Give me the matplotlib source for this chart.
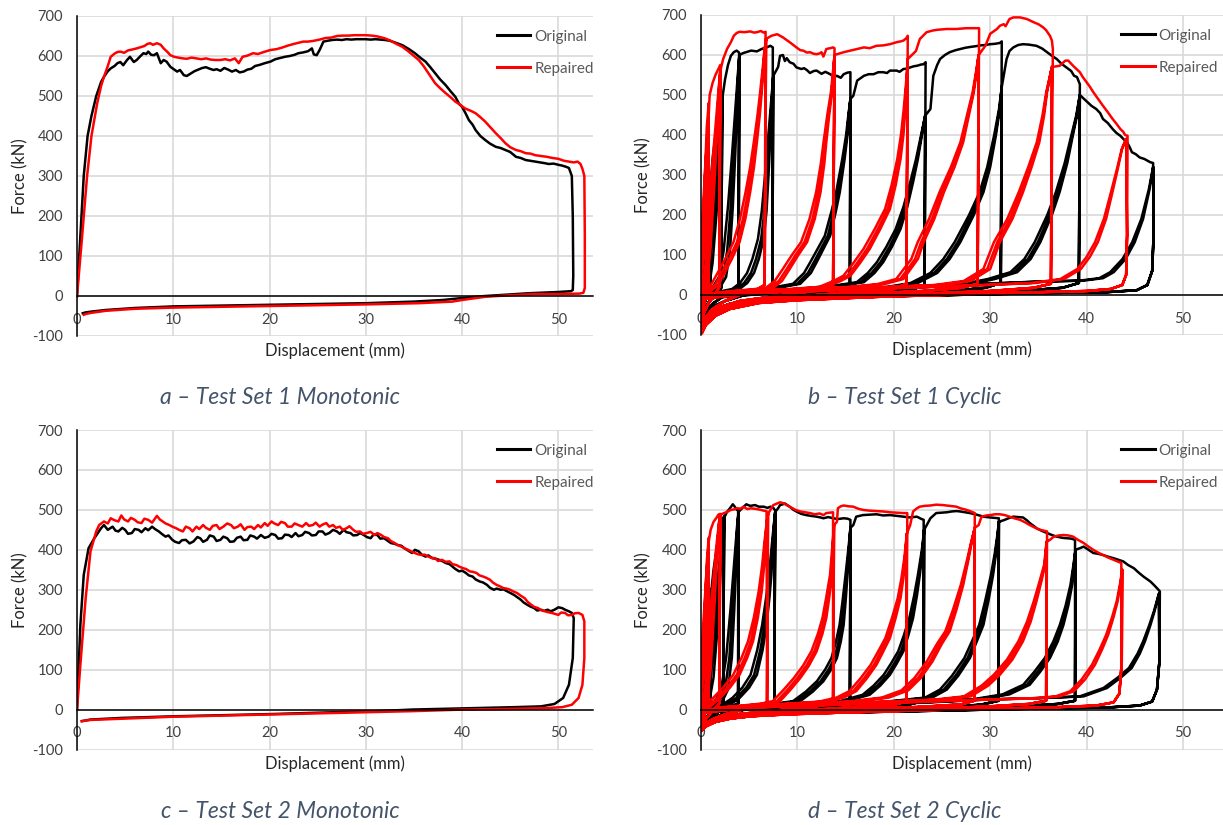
import matplotlib
matplotlib.use("Agg")
import matplotlib.pyplot as plt
from matplotlib.patches import Rectangle

plt.rcParams['font.family'] = ['Lato', 'DejaVu Sans']
plt.rcParams['axes.unicode_minus'] = False

# ---------------- common text / ticks ----------------
X_TICKS = [0, 10, 20, 30, 40, 50]
Y_TICKS = [-100, 0, 100, 200, 300, 400, 500, 600, 700]
SERIES = ['Original', 'Repaired']
CAPTIONS = ['a \u2013 Test Set 1 Monotonic', 'b \u2013 Test Set 1 Cyclic',
            'c \u2013 Test Set 2 Monotonic', 'd \u2013 Test Set 2 Cyclic']
X_LABEL = 'Displacement (mm)'
Y_LABEL = 'Force (kN)'

# ---------------- panel a : Test Set 1 monotonic ----------------
a_orig_load = [(0,0),(0.35,150),(0.7,300),(1.1,400),(1.5,450),(2.0,500),(2.5,535),(2.8,548),(3.2,562),(3.5,569),(3.9,575),(4.2,582),(4.5,585),(4.8,577),(5.2,590),(5.5,598),(5.9,585),(6.2,590),(6.6,600),(6.9,607),(7.2,605),(7.4,611),(7.7,603),(8.0,602),(8.3,607),(8.7,582),(9.0,590),(9.3,586),(9.7,573),(10.0,568),(10.4,561),(10.7,565),(11.1,552),(11.4,550),(11.8,556),(12.2,562),(12.6,566),(13.0,570),(13.4,572),(13.8,568),(14.2,565),(14.5,567),(14.9,563),(15.3,570),(15.7,566),(16.1,561),(16.5,565),(16.9,559),(17.3,561),(17.7,566),(18.1,568),(18.5,575),(19.0,578),(19.5,582),(20.1,586),(20.6,592),(21.1,595),(21.6,598),(22.1,600),(22.6,603),(23.0,607),(23.5,609),(24.0,612),(24.4,619),(24.6,604),(24.9,602),(25.2,615),(25.6,636),(26.0,638),(26.5,640),(27.0,641),(27.5,640),(28.0,642),(28.5,641),(29.0,642),(29.5,642),(30.0,642),(30.5,641),(31.0,642),(31.5,641),(32.0,640),(32.5,638),(33.0,634),(33.8,627),(34.5,617),(35.1,607),(35.7,595),(36.2,586),(36.7,572),(37.2,557),(37.7,542),(38.3,527),(38.8,512),(39.3,498),(39.7,480),(40.0,473),(40.4,455),(40.7,440),(41.1,428),(41.4,415),(41.9,400),(42.4,390),(42.9,381),(43.5,373),(44.0,370),(44.5,365),(45.0,360),(45.6,348),(46.1,345),(46.6,340),(47.1,338),(47.6,336),(48.1,334),(48.6,332),(49.0,330),(49.5,331),(50.0,328),(50.4,326),(50.8,323),(51.1,320),(51.4,300),(51.5,200),(51.55,50),(51.5,15)]
a_orig_unload = [(51.3,12),(50.0,10),(47.0,7),(45.0,4),(42.4,0),(40,-5),(38,-10),(35,-14),(30,-18),(25,-20),(20,-22),(15,-24),(10,-26),(6,-30),(3,-35),(1.5,-39),(0.9,-41),(0.6,-43)]
a_rep_load = [(0,0),(0.5,140),(1.04,298),(1.5,400),(2.1,482),(2.5,525),(2.8,548),(3.2,575),(3.5,598),(3.9,606),(4.2,610),(4.5,611),(4.9,608),(5.3,614),(5.7,616),(6.2,619),(6.6,622),(7.0,625),(7.3,630),(7.6,632),(7.9,628),(8.3,632),(8.7,628),(9.0,619),(9.4,610),(9.7,602),(10.1,598),(10.5,596),(11.0,594),(11.4,593),(11.9,596),(12.4,594),(12.9,592),(13.4,594),(13.9,591),(14.4,590),(14.9,590),(15.4,592),(15.9,589),(16.4,594),(16.8,582),(17.2,598),(17.7,601),(18.3,607),(18.8,605),(19.4,610),(20.1,615),(20.7,617),(21.3,621),(21.9,626),(22.5,630),(23.0,633),(23.5,636),(24.0,636),(24.6,638),(25.2,641),(25.8,645),(26.4,646),(27.0,650),(27.6,651),(28.2,651),(28.8,652),(29.4,652),(30.0,652),(30.6,651),(31.2,649),(32.0,644),(32.6,638),(33.2,630),(33.8,623),(34.4,612),(35.0,600),(35.5,590),(36.0,575),(36.5,557),(37.2,532),(37.7,520),(38.3,507),(38.8,497),(39.3,486),(39.8,478),(40.3,469),(40.9,463),(41.4,457),(41.9,447),(42.4,436),(42.9,423),(43.5,407),(44.0,395),(44.5,382),(45.0,372),(45.6,365),(46.1,362),(46.6,357),(47.1,356),(47.6,352),(48.2,350),(48.8,348),(49.4,345),(50.0,343),(50.6,338),(51.1,336),(51.6,334),(52.0,336),(52.3,330),(52.5,318),(52.7,300),(52.75,150),(52.75,20),(52.6,8)]
a_rep_unload = [(52.2,6),(50,5),(47.6,5),(45,2),(42.4,-2),(40,-10),(39,-14),(35.5,-18),(30,-21),(25,-23),(20,-25),(15,-27),(10,-29),(6,-32),(3,-37),(1.5,-42),(0.9,-45),(0.7,-47)]

# ---------------- panel c : Test Set 2 monotonic ----------------
c_orig_load = [(0,0),(0.35,212),(0.7,337),(1.2,404),(1.8,429),(2.5,454),(2.8,462),(3.2,450),(3.7,458),(4.0,448),(4.3,446),(4.7,455),(5.0,450),(5.3,440),(5.7,442),(6.0,452),(6.4,450),(6.7,444),(7.1,454),(7.4,449),(7.8,458),(8.1,452),(8.5,446),(8.8,440),(9.2,433),(9.5,436),(9.9,425),(10.2,420),(10.6,417),(10.9,424),(11.3,425),(11.7,416),(12.1,421),(12.5,432),(12.8,429),(13.1,420),(13.5,425),(13.8,436),(14.2,433),(14.5,422),(14.9,425),(15.2,433),(15.6,429),(15.9,420),(16.3,421),(16.6,430),(17.0,433),(17.3,424),(17.7,425),(18.0,436),(18.4,433),(18.7,428),(19.1,437),(19.5,430),(19.9,433),(20.2,440),(20.6,437),(20.9,428),(21.3,429),(21.6,438),(22.0,437),(22.3,432),(22.7,442),(23.0,434),(23.4,437),(23.7,445),(24.1,442),(24.4,436),(24.8,437),(25.1,446),(25.5,446),(25.8,438),(26.2,442),(26.6,450),(27.0,446),(27.3,440),(27.7,450),(28.0,444),(28.4,442),(28.7,436),(29.1,437),(29.4,442),(29.8,437),(30.1,432),(30.5,429),(30.8,438),(31.2,437),(31.5,428),(31.9,429),(32.3,422),(32.6,417),(33.0,415),(33.3,412),(33.7,410),(34.0,404),(34.4,398),(34.8,392),(35.1,400),(35.5,396),(35.8,388),(36.2,383),(36.5,386),(36.9,379),(37.2,378),(37.6,375),(38.0,371),(38.3,367),(38.7,364),(39.0,358),(39.3,352),(39.7,346),(40.0,348),(40.4,342),(40.7,336),(41.1,333),(41.4,326),(41.8,321),(42.2,318),(42.6,312),(42.9,305),(43.3,300),(43.6,303),(44.0,300),(44.3,301),(44.7,296),(45.0,292),(45.4,287),(45.7,282),(46.1,275),(46.4,268),(46.8,262),(47.1,258),(47.5,254),(47.8,248),(48.2,250),(48.5,247),(48.9,250),(49.2,246),(49.6,250),(50.0,256),(50.4,254),(50.7,250),(51.1,246),(51.4,242),(51.6,229)]
c_orig_unload = [(51.5,129),(51.1,62),(50.5,29),(49.6,14),(48.2,8),(45.4,6),(40.1,3),(34.8,0),(31.2,-4),(27.7,-6),(20.6,-11),(15.2,-14),(9.9,-17),(4.6,-21),(1.4,-25),(0.5,-29)]
c_rep_load = [(0,0),(0.35,112),(0.9,279),(1.4,396),(2.0,446),(2.3,462),(2.8,471),(3.2,466),(3.5,479),(3.9,474),(4.3,471),(4.6,486),(4.9,476),(5.3,471),(5.6,480),(6.0,475),(6.3,469),(6.7,467),(7.0,478),(7.4,475),(7.8,468),(8.3,485),(8.6,476),(8.9,471),(9.2,466),(9.6,462),(9.9,458),(10.3,454),(10.6,450),(11.0,446),(11.3,458),(11.7,454),(12.0,446),(12.4,458),(12.7,452),(13.1,462),(13.4,455),(13.8,450),(14.1,460),(14.5,462),(14.8,452),(15.2,458),(15.6,466),(16.0,462),(16.3,454),(16.7,458),(17.0,464),(17.4,450),(17.7,457),(18.1,458),(18.4,452),(18.8,462),(19.1,456),(19.5,467),(19.8,460),(20.2,471),(20.5,466),(20.9,462),(21.2,470),(21.6,467),(21.9,458),(22.3,458),(22.6,466),(23.0,462),(23.4,458),(23.8,467),(24.1,460),(24.5,462),(24.8,468),(25.2,458),(25.5,463),(25.9,467),(26.2,458),(26.6,462),(26.9,455),(27.3,458),(27.6,450),(28.0,454),(28.3,459),(28.7,450),(29.0,445),(29.4,446),(29.7,440),(30.1,442),(30.5,445),(30.9,437),(31.2,442),(31.6,437),(31.9,432),(32.3,429),(32.6,422),(33.0,417),(33.3,412),(33.7,408),(34.0,404),(34.4,400),(34.7,396),(35.1,392),(35.4,389),(35.8,387),(36.1,388),(36.5,383),(36.8,380),(37.2,379),(37.5,372),(37.9,375),(38.3,370),(38.7,371),(39.0,364),(39.4,362),(39.7,358),(40.1,354),(40.4,352),(40.8,346),(41.1,345),(41.5,342),(41.8,336),(42.2,333),(42.5,330),(42.9,325),(43.2,318),(43.6,312),(43.9,309),(44.3,304),(44.6,303),(45.0,300),(45.3,296),(45.7,292),(46.1,285),(46.5,279),(46.8,270),(47.2,262),(47.5,257),(47.9,254),(48.2,249),(48.6,246),(48.9,244),(49.3,242),(49.6,240),(50.0,237),(50.3,243),(50.7,242),(51.0,236),(51.4,237),(51.7,241),(52.1,242),(52.5,237),(52.7,221)]
c_rep_unload = [(52.7,129),(52.5,62),(52.1,29),(51.4,12),(50.4,6),(48.9,4),(45.4,2),(40.1,0),(34.8,-4),(27.7,-8),(20.6,-12),(9.9,-18),(1.4,-26),(0.5,-29)]

# ---------------- panel b : Test Set 1 cyclic ----------------
# backbone segment reached in the first cycle of each amplitude
b_orig_env = [
    [(0,0),(0.2,70),(0.5,170),(0.8,250),(1.0,300)],
    [(1.2,340),(1.5,400),(1.8,450),(2.0,480),(2.2,500)],
    [(2.5,540),(2.8,575),(3.1,598),(3.4,607),(3.7,611),(3.95,606)],
    [(4.4,605),(4.8,608),(5.2,611),(5.8,609),(6.2,614),(6.5,617),(6.9,620),(7.2,623),(7.45,619)],
    [(8.0,570),(8.2,598),(8.5,600),(8.7,585),(8.9,592),(9.2,582),(9.6,578),(9.9,569),(10.4,565),(10.7,567),(11.0,562),(11.3,555),(11.7,560),(12.0,561),(12.5,553),(12.9,558),(13.4,552),(13.8,545),(14.1,548),(14.5,543),(14.8,552),(15.2,556),(15.5,557)],
    [(15.8,498),(16.2,536),(16.9,548),(17.4,552),(17.9,552),(18.4,557),(18.9,557),(19.3,555),(19.6,561),(20.3,561),(20.6,558),(21.0,565),(21.4,566),(21.7,569),(22.1,572),(22.4,573),(22.8,576),(23.1,577),(23.3,582)],
    [(23.8,465),(24.1,548),(24.5,575),(24.8,590),(25.3,600),(25.8,607),(26.4,612),(26.9,615),(27.4,618),(27.9,620),(28.5,622),(29.0,624),(29.5,625),(30.0,627),(30.5,628),(31.0,630),(31.2,634)],
    [(31.7,590),(32.0,610),(32.4,619),(32.9,625),(33.4,627),(34.0,626),(34.8,623),(35.4,616),(35.9,607),(36.4,598),(36.9,590),(37.4,578),(37.9,569),(38.4,560),(38.7,548),(39.0,545),(39.3,527)],
    [(40.5,473),(41.0,465),(41.4,455),(41.7,440),(42.2,430),(42.7,415),(43.1,405),(43.5,398),(43.9,388),(44.2,382),(44.5,368),(44.7,357),(45.1,352),(45.5,344),(46.0,340),(46.6,332),(46.9,330)],
]
# reloading branch of the repeated cycles at each amplitude
b_orig_rel = [
    [(0.3,-10),(0.5,30),(0.7,120),(0.85,200),(1.0,280)],
    [(0.3,-10),(0.8,15),(1.2,80),(1.6,200),(1.9,330),(2.1,440),(2.2,490)],
    [(0.3,-10),(1.0,8),(2.0,20),(2.6,45),(3.0,110),(3.3,220),(3.55,350),(3.75,470),(3.9,560),(3.98,600)],
    [(0.3,-10),(1.5,5),(3.0,10),(4.0,15),(4.8,30),(5.5,55),(6.0,90),(6.5,140),(6.8,210),(7.0,298),(7.2,400),(7.35,480),(7.5,548)],
    [(0.3,-10),(3,5),(6,12),(8.5,20),(10.3,28),(11.4,55),(12.0,82),(12.8,120),(13.4,148),(14.0,210),(14.4,257),(14.9,340),(15.2,400),(15.35,450),(15.5,490)],
    [(0.3,-10),(4,5),(8,10),(12,18),(15,25),(16.9,32),(18.0,55),(18.9,82),(19.8,120),(20.7,165),(21.4,220),(22.0,282),(22.5,340),(22.9,398),(23.25,448)],
    [(0.3,-10),(5,5),(10,10),(15,15),(20,20),(22.5,30),(24.5,55),(25.8,90),(26.9,132),(28.3,200),(29.3,257),(30.0,320),(30.6,400),(31.0,465),(31.2,520)],
    [(0.3,-10),(6,5),(12,10),(18,15),(24,22),(28,28),(30.5,40),(32.8,57),(34.2,90),(35.2,132),(36.4,200),(37.2,257),(38.0,330),(38.5,390),(39.0,448),(39.3,500)],
    [(0.3,-10),(8,5),(16,12),(24,20),(30,28),(35,33),(40,36),(42,42),(43.1,57),(44.3,90),(45.2,132),(46.0,190),(46.6,265),(46.9,320)],
]
# unloading / return branch at each amplitude
b_orig_ret = [
    [(0.95,15),(0.6,-5),(0.3,-25),(0.1,-40)],
    [(2.1,18),(1.5,0),(0.8,-18),(0.3,-40),(0.1,-50)],
    [(3.9,18),(3.2,8),(2.2,-5),(1.2,-22),(0.4,-42),(0.1,-55)],
    [(7.4,22),(6.2,10),(4.5,0),(2.5,-15),(1.2,-30),(0.4,-52),(0.1,-65)],
    [(15.45,25),(14.5,12),(12,5),(9,-2),(6,-10),(3,-22),(1.5,-35),(0.5,-55),(0.1,-70)],
    [(23.2,25),(22,14),(18,6),(14,-2),(10,-8),(6,-15),(3,-28),(1.5,-40),(0.5,-60),(0.1,-75)],
    [(31.1,30),(29.5,18),(25,8),(20,2),(15,-3),(10,-8),(6,-15),(3,-28),(1.5,-42),(0.5,-62),(0.1,-78)],
    [(39.2,30),(37.5,18),(33,10),(28,5),(20,-2),(14,-6),(10,-10),(6,-17),(3,-30),(1.5,-45),(0.5,-65),(0.1,-82)],
    [(46.95,150),(46.8,60),(46.3,25),(45.2,12),(42,7),(36,5),(30,2),(24,-1),(18,-4),(12,-8),(8,-12),(5,-18),(3,-28),(1.5,-42),(0.5,-62),(0.1,-80)],
]
b_rep_env = [
    [(0,0),(0.2,150),(0.4,300),(0.6,420),(0.8,480)],
    [(0.9,500),(1.2,530),(1.5,550),(1.8,565),(2.0,575)],
    [(2.3,590),(2.7,615),(3.1,632),(3.4,648),(3.7,655),(4.0,658),(4.5,657),(5.1,659),(5.5,656),(5.8,657),(6.2,660),(6.5,656),(6.7,658)],
    [(7.3,648),(7.9,652),(8.5,644),(9.2,632),(9.9,619),(10.3,612),(10.6,611),(11.0,606),(11.3,607),(11.7,603),(12.0,602),(12.3,604),(12.5,607),(12.7,596),(13.0,615),(13.4,617),(13.7,619),(13.85,617)],
    [(14.8,607),(15.5,611),(16.2,615),(16.9,619),(17.5,617),(18.2,623),(18.9,624),(19.6,627),(20.0,630),(20.3,632),(20.7,634),(21.0,636),(21.3,642),(21.45,648)],
    [(22.3,610),(22.7,640),(23.4,657),(24.0,661),(24.5,663),(25.5,665),(26.5,665),(27.5,667),(28.6,667),(28.85,667)],
    [(29.5,623),(30.0,653),(30.7,665),(31.0,673),(31.4,677),(31.6,672),(32.0,690),(32.4,694),(33.1,694),(33.8,690),(34.5,682),(35.0,677),(35.5,669),(35.8,662),(36.2,648),(36.4,636),(36.5,615)],
    [(37.2,573),(37.8,586),(38.1,586),(38.6,573),(39.3,557),(39.6,545),(40.0,532),(40.3,522),(40.7,507),(41.2,490),(41.7,473),(42.2,457),(42.7,440),(43.1,428),(43.5,415),(43.8,408),(44.0,400),(44.25,398)],
]
b_rep_rel = [
    [(0.3,-10),(0.45,50),(0.6,200),(0.7,350),(0.8,450)],
    [(0.3,-10),(0.6,20),(1.0,120),(1.4,280),(1.7,420),(1.9,520),(2.0,560)],
    [(0.3,-10),(1.0,10),(1.8,25),(2.3,48),(3.2,90),(4.0,132),(4.6,190),(5.1,257),(5.5,320),(5.8,382),(6.1,450),(6.3,507),(6.5,570),(6.6,607),(6.75,640)],
    [(0.3,-10),(2,5),(4,10),(6,14),(7.5,18),(8.4,35),(9.2,65),(10.1,100),(11.0,132),(11.8,190),(12.4,257),(12.8,330),(13.0,382),(13.3,450),(13.6,507),(13.75,560),(13.85,600)],
    [(0.3,-10),(3,5),(6,10),(10,15),(13,20),(14.5,35),(15.5,48),(16.5,80),(17.5,115),(18.6,165),(19.6,215),(20.2,275),(20.7,340),(21.0,400),(21.2,465),(21.35,530),(21.45,590)],
    [(0.3,-10),(4,5),(8,10),(12,15),(16,20),(19,27),(21,40),(22.5,90),(23.1,132),(24.2,190),(25.2,257),(26.3,320),(27.2,382),(27.8,450),(28.3,507),(28.6,560),(28.8,600)],
    [(0.3,-10),(5,5),(10,10),(15,15),(20,20),(25,25),(28,35),(30,65),(31.0,132),(32.3,190),(33.4,257),(34.3,320),(35.1,382),(35.6,450),(35.9,507),(36.2,545),(36.4,570)],
    [(0.3,-10),(6,5),(12,10),(18,15),(24,20),(30,25),(35,30),(38,40),(39.7,65),(40.6,95),(41.4,132),(42.2,190),(42.8,257),(43.3,315),(43.7,365),(44.1,390)],
]
b_rep_ret = [
    [(0.75,20),(0.5,-5),(0.3,-25),(0.1,-45)],
    [(1.9,20),(1.4,0),(0.8,-20),(0.3,-45),(0.1,-60)],
    [(6.6,25),(5.5,10),(4.0,0),(2.5,-15),(1.2,-35),(0.5,-55),(0.1,-75)],
    [(13.7,25),(12.5,12),(10,5),(7,-5),(4,-15),(2,-30),(1,-45),(0.4,-65),(0.1,-85)],
    [(21.3,28),(20,15),(16,8),(12,0),(8,-8),(5,-17),(2.5,-32),(1.2,-48),(0.4,-70),(0.1,-90)],
    [(28.7,28),(27,18),(23,10),(18,4),(13,-2),(9,-8),(5.8,-17),(2.8,-32),(1.4,-48),(0.4,-72),(0.1,-92)],
    [(36.3,28),(34.5,18),(30,10),(25,5),(20,0),(15,-5),(10,-10),(6,-17),(3,-30),(1.5,-45),(0.5,-68),(0.1,-93)],
    [(44.2,150),(44.1,50),(43.7,25),(42.5,15),(40,10),(35,7),(30,4),(25,0),(20,-3),(15,-8),(10,-13),(6,-20),(3,-35),(1.5,-52),(0.5,-75),(0.1,-95)],
]

# ---------------- panel d : Test Set 2 cyclic ----------------
d_orig_env = [
    [(0,0),(0.2,80),(0.5,180),(0.8,260),(1.0,300)],
    [(1.3,350),(1.6,400),(1.9,440),(2.2,470),(2.4,485)],
    [(2.7,495),(3.0,504),(3.3,514),(3.5,508),(3.7,500),(3.85,503)],
    [(4.3,505),(4.7,514),(5.1,510),(5.6,512),(6.0,508),(6.5,508),(6.9,505),(7.2,508),(7.5,505),(7.7,498)],
    [(8.0,504),(8.2,512),(8.5,514),(8.7,516),(9.0,511),(9.2,508),(9.6,500),(9.9,496),(10.4,490),(10.9,487),(11.4,485),(12.0,483),(12.4,481),(12.7,479),(13.2,482),(13.7,479),(14.2,477),(14.8,479),(15.2,478),(15.5,475)],
    [(15.8,462),(16.1,483),(16.8,487),(17.5,488),(18.2,489),(18.9,486),(19.6,487),(20.3,485),(21.0,483),(21.7,481),(22.4,483),(22.8,478),(23.1,475)],
    [(23.8,479),(24.4,492),(25.0,493),(25.5,494),(26.0,496),(26.5,497),(26.9,496),(27.4,494),(27.9,492),(28.6,488),(29.3,483),(30.0,481),(30.5,480),(30.9,479)],
    [(31.5,475),(32.0,480),(32.4,483),(32.9,482),(33.4,481),(33.8,474),(34.1,467),(34.5,460),(34.8,454),(35.3,448),(35.9,442),(36.4,437),(36.9,433),(37.5,430),(38.0,429),(38.4,428),(38.8,425)],
    [(39.3,404),(39.7,408),(40.2,400),(40.7,392),(41.2,390),(41.7,387),(42.2,383),(42.8,379),(43.3,375),(43.8,371),(44.3,362),(44.9,354),(45.4,343),(45.9,333),(46.2,328),(46.6,321),(46.9,314),(47.3,304),(47.6,296)],
]
d_orig_rel = [
    [(0.3,-8),(0.5,30),(0.7,120),(0.85,200),(1.0,280)],
    [(0.3,-8),(0.8,12),(1.3,80),(1.7,200),(2.0,330),(2.25,430),(2.4,480)],
    [(0.3,-8),(1.2,8),(2.2,20),(2.8,50),(3.2,130),(3.45,250),(3.65,370),(3.8,460),(3.9,495)],
    [(0.3,-8),(1.5,5),(3.0,12),(4.0,29),(5.0,55),(5.8,87),(6.4,150),(6.8,212),(7.1,280),(7.3,337),(7.5,420),(7.6,462),(7.7,495)],
    [(0.3,-8),(3,4),(6,10),(8.5,15),(10.3,21),(11.6,45),(12.7,71),(13.5,100),(14.1,129),(14.5,170),(14.8,212),(15.0,270),(15.2,337),(15.4,410),(15.5,455)],
    [(0.3,-8),(4,4),(8,9),(12,14),(15,20),(17.5,37),(18.6,60),(19.6,87),(20.3,115),(21.0,146),(21.5,185),(22.0,229),(22.4,285),(22.7,337),(23.0,400),(23.15,450)],
    [(0.3,-8),(5,4),(10,9),(15,14),(20,20),(24,30),(25.5,50),(26.7,85),(27.9,129),(28.6,170),(29.3,212),(29.8,270),(30.3,337),(30.6,390),(30.8,437),(30.9,470)],
    [(0.3,-8),(6,4),(12,9),(18,14),(24,20),(29,26),(32,38),(34.1,62),(35.2,95),(36.2,129),(37.0,170),(37.6,212),(38.1,260),(38.5,312),(38.7,360),(38.85,400)],
    [(0.3,-8),(8,4),(16,10),(24,18),(30,25),(36,29),(40,33),(42.4,54),(43.8,80),(44.9,104),(45.7,140),(46.2,171),(46.7,210),(47.1,246),(47.5,290)],
]
d_orig_ret = [
    [(0.95,12),(0.6,-3),(0.3,-15),(0.1,-25)],
    [(2.3,15),(1.6,2),(0.9,-12),(0.3,-25),(0.1,-32)],
    [(3.85,15),(3.0,6),(2.0,-4),(1.0,-15),(0.3,-28),(0.1,-35)],
    [(7.6,18),(6.3,8),(4.5,0),(2.5,-10),(1.2,-20),(0.4,-32),(0.1,-40)],
    [(15.45,20),(14.5,12),(12,5),(9,-2),(6,-8),(3,-16),(1.5,-24),(0.5,-35),(0.1,-45)],
    [(23.1,22),(21.5,12),(18,6),(14,0),(10,-5),(6,-10),(3,-18),(1.5,-26),(0.5,-37),(0.1,-47)],
    [(30.85,22),(29,12),(25,6),(20,1),(15,-4),(10,-9),(6,-14),(3,-21),(1.5,-29),(0.5,-40),(0.1,-50)],
    [(38.8,22),(37,14),(33,8),(28,3),(20,-2),(14,-6),(10,-10),(6,-15),(3,-22),(1.5,-30),(0.5,-42),(0.1,-52)],
    [(47.55,120),(47.3,50),(46.8,20),(45.5,10),(42,5),(36,3),(30,0),(24,-3),(18,-6),(12,-9),(8,-12),(5,-16),(3,-22),(1.5,-30),(0.5,-42),(0.1,-52)],
]
d_rep_env = [
    [(0,0),(0.2,130),(0.4,260),(0.6,370),(0.8,430)],
    [(1.0,450),(1.3,470),(1.6,480),(1.8,488),(2.0,490)],
    [(2.4,492),(2.8,496),(3.1,500),(3.4,501),(3.7,504),(4.1,503),(4.4,508),(4.8,502),(5.2,504),(5.8,502),(6.2,500),(6.5,498),(6.8,497)],
    [(7.5,512),(7.9,516),(8.2,519),(8.5,517),(8.9,512),(9.2,508),(9.8,500),(10.3,496),(10.8,494),(11.3,492),(11.8,489),(12.3,491),(12.7,487),(13.0,492),(13.4,493),(13.7,494)],
    [(14.1,470),(14.2,504),(14.5,509),(14.8,511),(15.3,509),(15.8,508),(16.3,503),(16.8,500),(17.5,498),(18.2,497),(18.9,496),(19.6,494),(20.3,493),(21.0,492),(21.4,492)],
    [(21.7,462),(22.0,496),(22.4,504),(22.7,508),(23.2,510),(23.8,511),(24.4,513),(25.1,512),(25.8,510),(26.5,508),(26.9,504),(27.4,501),(27.9,497),(28.4,492)],
    [(28.8,462),(29.1,483),(29.6,486),(30.0,487),(30.5,489),(31.0,489),(31.5,487),(32.0,483),(32.5,479),(33.1,475),(33.6,469),(34.1,462),(34.6,456),(35.2,450),(35.9,446)],
    [(36.2,425),(36.6,433),(37.1,436),(37.6,437),(38.1,436),(38.6,433),(39.1,425),(39.7,417),(40.2,408),(40.7,400),(41.2,393),(41.7,387),(42.2,381),(42.8,375),(43.2,371),(43.6,367)],
]
d_rep_rel = [
    [(0.3,-8),(0.45,40),(0.6,180),(0.7,320),(0.8,420)],
    [(0.3,-8),(0.6,15),(1.0,100),(1.4,260),(1.7,400),(1.9,470),(2.0,488)],
    [(0.3,-8),(1.0,8),(2.0,29),(3.0,55),(4.0,87),(4.8,130),(5.4,171),(5.9,230),(6.3,296),(6.55,360),(6.7,421),(6.85,470),(6.95,490)],
    [(0.3,-8),(2.5,5),(5,10),(7,15),(8.2,21),(9.3,50),(10.3,79),(11.2,110),(12.0,146),(12.6,190),(13.0,229),(13.3,280),(13.6,337),(13.7,400),(13.8,462)],
    [(0.3,-8),(3,5),(6,10),(10,15),(13,20),(14.8,30),(16.1,46),(17.2,78),(18.2,112),(18.9,145),(19.6,179),(20.2,230),(20.7,279),(21.0,330),(21.2,379),(21.35,440)],
    [(0.3,-8),(4,5),(8,10),(12,15),(16,20),(19.5,30),(21.5,48),(22.8,79),(24.0,120),(25.0,165),(25.8,196),(26.5,250),(27.2,312),(27.7,370),(28.1,421),(28.4,455)],
    [(0.3,-8),(5,5),(10,10),(15,15),(20,20),(25,25),(28,33),(29.8,60),(31.0,87),(32.3,125),(33.4,171),(34.2,220),(34.8,271),(35.3,320),(35.7,362),(35.85,420)],
    [(0.3,-8),(6,5),(12,10),(18,15),(24,20),(30,25),(35,28),(37.5,33),(39.0,46),(40.1,75),(41.1,112),(41.8,150),(42.4,187),(42.9,230),(43.3,271),(43.55,315),(43.7,350)],
]
d_rep_ret = [
    [(0.75,15),(0.5,-3),(0.3,-18),(0.1,-30)],
    [(1.9,15),(1.4,2),(0.8,-15),(0.3,-30),(0.1,-38)],
    [(6.85,18),(5.8,8),(4.0,-2),(2.5,-12),(1.2,-24),(0.4,-36),(0.1,-44)],
    [(13.7,18),(12.5,10),(10,3),(7,-4),(4,-11),(2,-20),(1,-28),(0.4,-38),(0.1,-46)],
    [(21.3,20),(20,12),(16,6),(12,0),(8,-6),(5,-12),(2.5,-21),(1.2,-29),(0.4,-40),(0.1,-48)],
    [(28.35,22),(27,13),(23,7),(18,2),(13,-3),(9,-8),(5.5,-13),(2.8,-22),(1.4,-30),(0.4,-41),(0.1,-50)],
    [(35.8,22),(34,14),(30,8),(25,3),(20,-1),(15,-5),(10,-10),(6,-14),(3,-22),(1.5,-30),(0.5,-42),(0.1,-52)],
    [(43.65,120),(43.4,40),(42.8,18),(41,10),(37,6),(32,3),(26,0),(20,-4),(14,-8),(9,-12),(5,-17),(3,-23),(1.5,-31),(0.5,-42),(0.1,-50)],
]
# horizontal spread (mm, at zero force) of the two repeated reload curves
b_orig_spread = [-0.35, -0.8]
b_rep_spread = [-0.35, -0.8]
d_orig_spread = [-0.35, -0.8]
d_rep_spread = [-0.35, -0.8]

# ---------------- styles ----------------
COLORS = ['#000000', '#ff0000']
LW = 1.8
GRID = '#d9d9d9'
TICK_COLOR = '#404040'
CAP_COLOR = '#44546a'


def shifted(pts, dx):
    fend = pts[-1][1]
    return [(x + dx * (1 - y / fend), y) for x, y in pts]


def cyclic_path(env, rel, ret, spread):
    pts = []
    for k in range(len(env)):
        pts += (env[0] if k == 0 else rel[k - 1] + env[k])
        pts += ret[k]
        for dx in spread:
            pts += shifted(rel[k], dx) + ret[k]
    return [p[0] for p in pts], [p[1] for p in pts]


def mono_path(load, unload):
    pts = load + unload
    return [p[0] for p in pts], [p[1] for p in pts]


fig = plt.figure(figsize=(12.23, 8.25), dpi=100)
W, H = 1223.0, 825.0
panels = [
    dict(rect=(77, 16, 593, 336), xmax=53.6),
    dict(rect=(701, 15, 1223, 335), xmax=54.15),
    dict(rect=(77, 430, 593, 749.5), xmax=53.6),
    dict(rect=(701, 430, 1223, 749.5), xmax=54.15),
]
data = [
    [mono_path(a_orig_load, a_orig_unload), mono_path(a_rep_load, a_rep_unload)],
    [cyclic_path(b_orig_env, b_orig_rel, b_orig_ret, b_orig_spread),
     cyclic_path(b_rep_env, b_rep_rel, b_rep_ret, b_rep_spread)],
    [mono_path(c_orig_load, c_orig_unload), mono_path(c_rep_load, c_rep_unload)],
    [cyclic_path(d_orig_env, d_orig_rel, d_orig_ret, d_orig_spread),
     cyclic_path(d_rep_env, d_rep_rel, d_rep_ret, d_rep_spread)],
]
cap_pos = [(280, 397), (905, 397), (280, 812), (905, 812)]

for i, p in enumerate(panels):
    l, t, r, b = p['rect']
    ax = fig.add_axes([l / W, 1 - b / H, (r - l) / W, (b - t) / H])
    ax.set_xlim(0, p['xmax'])
    ax.set_ylim(-100, 700)
    ax.set_xticks(X_TICKS)
    ax.set_yticks(Y_TICKS)
    ax.grid(True, color=GRID, lw=1.2)
    ax.set_axisbelow(True)
    for s in ['top', 'right']:
        ax.spines[s].set_visible(False)
    ax.spines['bottom'].set_position(('data', 0))
    for s in ['bottom', 'left']:
        ax.spines[s].set_color('black')
        ax.spines[s].set_linewidth(1.1)
    ax.tick_params(length=0, labelsize=10.5, colors=TICK_COLOR)
    ax.tick_params(axis='x', pad=12)
    ax.tick_params(axis='y', pad=10)
    handles = []
    for j, (xs, ys) in enumerate(data[i]):
        ln, = ax.plot(xs, ys, color=COLORS[j], lw=LW, solid_joinstyle='round',
                      label=SERIES[j], clip_on=True)
        handles.append(ln)
    ax.set_xlabel(X_LABEL, fontsize=12, color='#262626')
    ax.xaxis.set_label_coords(0.5, -0.02)
    ax.set_ylabel(Y_LABEL, fontsize=12, color='#262626')
    ax.yaxis.set_label_coords(-0.095, 0.5)
    leg = ax.legend(handles=handles, loc='upper left', bbox_to_anchor=(43.6, 666),
                    bbox_transform=ax.transData, frameon=False, fontsize=11,
                    handlelength=2.2, handletextpad=0.25, labelspacing=1.18,
                    borderpad=0, borderaxespad=0)
    for txt in leg.get_texts():
        txt.set_color('#595959')
    for h in leg.legend_handles:
        h.set_linewidth(2.2)
    cx, cy = cap_pos[i]
    fig.text(cx / W, 1 - cy / H, CAPTIONS[i], ha='center', va='center',
             fontsize=16.5, style='italic', color=CAP_COLOR)

# crop of the left-hand charts (as in the source screenshot)
for top, bot in [(0, 380), (415, 790)]:
    fig.patches.append(Rectangle((594 / W, 1 - bot / H), 28 / W, (bot - top) / H,
                                 transform=fig.transFigure, facecolor='white',
                                 edgecolor='none', zorder=10))

fig.savefig('out.png', dpi=100)
